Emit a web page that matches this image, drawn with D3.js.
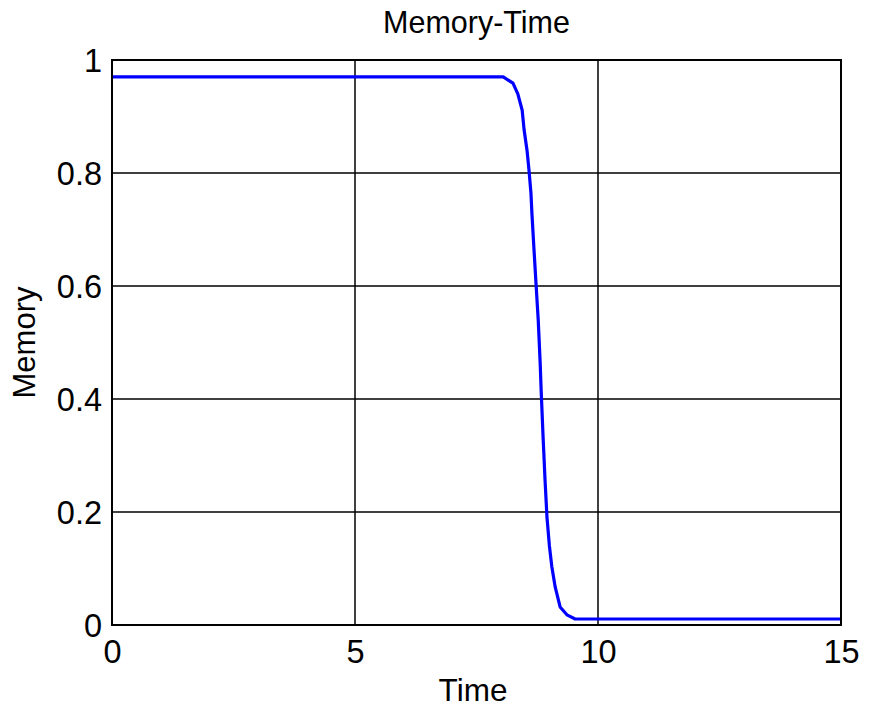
<!DOCTYPE html>
<html>
<head>
<meta charset="utf-8">
<script src="https://cdn.jsdelivr.net/npm/d3@7"></script>
<style>
  html, body { margin: 0; padding: 0; background: #fff; }
  svg { display: block; font-family: "Liberation Sans", Arial, sans-serif; }
</style>
</head>
<body>
<svg id="chart" width="869" height="709"></svg>
<script>
// Memory decay over time
const timeValues = [0, 8.05, 8.25, 8.35, 8.44, 8.48, 8.54, 8.58, 8.62, 8.64, 8.68, 8.72, 8.77, 8.81,
  8.83, 8.87, 8.91, 8.95, 9.00, 9.05, 9.12, 9.22, 9.36, 9.53, 15];
const memoryValues = [0.97, 0.97, 0.959, 0.94, 0.911, 0.876, 0.84, 0.805, 0.765, 0.729, 0.669, 0.611, 0.54, 0.464,
  0.416, 0.333, 0.257, 0.191, 0.14, 0.103, 0.067, 0.032, 0.018, 0.0106, 0.0106];
const xTicks = [0, 5, 10, 15];
const yTicks = [0, 0.2, 0.4, 0.6, 0.8, 1];

const svg = d3.select("#chart");
const plotLeft = 112, plotRight = 841, plotTop = 60, plotBottom = 625;

const x = d3.scaleLinear().domain([0, 15]).range([plotLeft, plotRight]);
const y = d3.scaleLinear().domain([0, 1]).range([plotBottom, plotTop]);

// grid lines
const grid = svg.append("g").attr("stroke", "#000").attr("stroke-width", 1.5);
grid.selectAll("line.gx").data(xTicks.slice(1, -1)).join("line")
  .attr("x1", d => x(d)).attr("x2", d => x(d)).attr("y1", plotTop).attr("y2", plotBottom);
grid.selectAll("line.gy").data(yTicks.slice(1, -1)).join("line")
  .attr("x1", plotLeft).attr("x2", plotRight).attr("y1", d => y(d)).attr("y2", d => y(d));

// axes (tick labels only; frame drawn separately)
const xAxis = svg.append("g").attr("transform", `translate(0,${plotBottom})`)
  .call(d3.axisBottom(x).tickValues(xTicks).tickFormat(d3.format("d")).tickSize(0).tickPadding(8));
xAxis.select(".domain").remove();
xAxis.selectAll("text").attr("font-size", 32.5).attr("fill", "#000")
  .attr("font-family", "'Liberation Sans', Arial, sans-serif")
  .attr("dy", null).attr("y", 38);

const yAxis = svg.append("g").attr("transform", `translate(${plotLeft},0)`)
  .call(d3.axisLeft(y).tickValues(yTicks).tickFormat(d => d === 0 || d === 1 ? d3.format("d")(d) : d3.format(".1f")(d)).tickSize(0).tickPadding(10));
yAxis.select(".domain").remove();
yAxis.selectAll("text").attr("font-size", 32.5).attr("fill", "#000")
  .attr("font-family", "'Liberation Sans', Arial, sans-serif")
  .attr("dy", "0.36em");

// clipped data line
svg.append("clipPath").attr("id", "plotClip").append("rect")
  .attr("x", plotLeft).attr("y", plotTop).attr("width", plotRight - plotLeft).attr("height", plotBottom - plotTop);

const line = d3.line().x((d, i) => x(timeValues[i])).y(d => y(d));
svg.append("path").datum(memoryValues)
  .attr("clip-path", "url(#plotClip)")
  .attr("d", line)
  .attr("fill", "none").attr("stroke", "#0000ff").attr("stroke-width", 3.2)
  .attr("stroke-linejoin", "round");

// frame
svg.append("rect").attr("x", plotLeft).attr("y", plotTop).attr("width", plotRight - plotLeft).attr("height", plotBottom - plotTop)
  .attr("fill", "none").attr("stroke", "#000").attr("stroke-width", 2);

// title and axis labels
svg.append("text").attr("x", (plotLeft + plotRight) / 2).attr("y", 33).attr("text-anchor", "middle")
  .attr("font-size", 30.5).text("Memory-Time");
svg.append("text").attr("x", 473).attr("y", 701).attr("text-anchor", "middle")
  .attr("font-size", 31.5).text("Time");
svg.append("text").attr("transform", `translate(35,${(plotTop + plotBottom) / 2}) rotate(-90)`)
  .attr("text-anchor", "middle").attr("font-size", 31).text("Memory");
</script>
</body>
</html>
